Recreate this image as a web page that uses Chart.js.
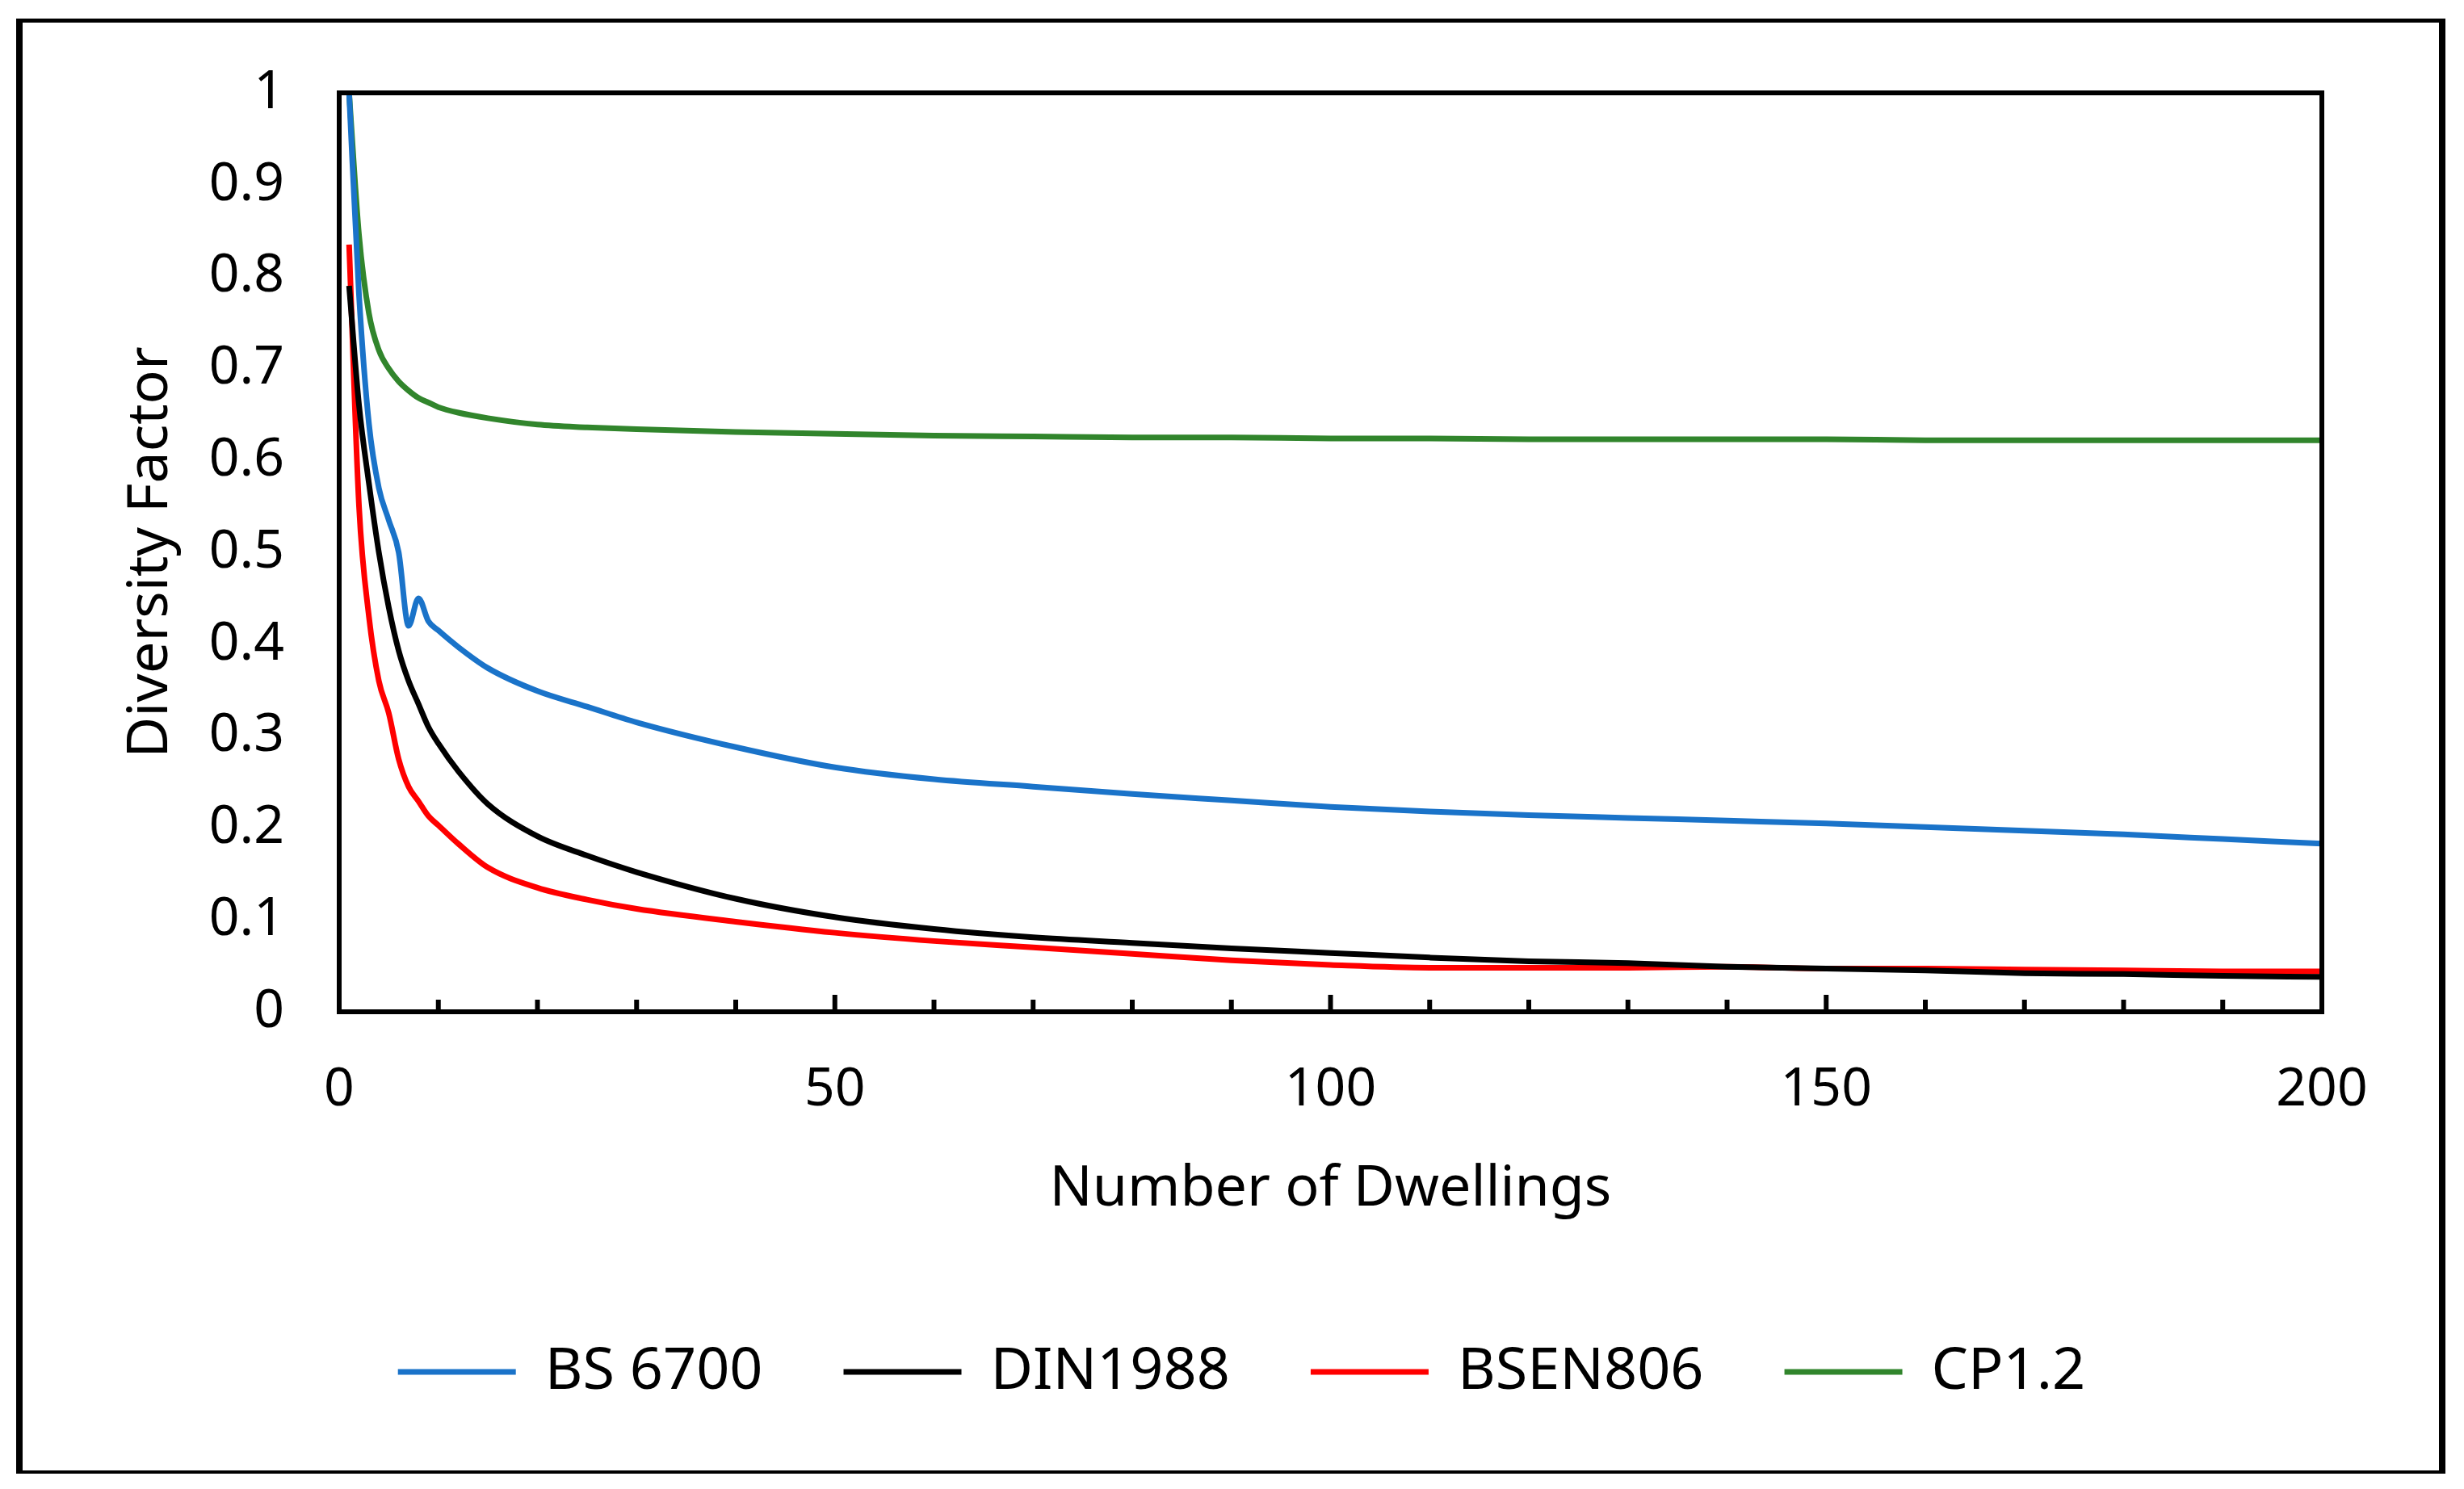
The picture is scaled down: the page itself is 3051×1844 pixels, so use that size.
<!DOCTYPE html>
<html>
<head>
<meta charset="utf-8">
<script src="https://cdn.jsdelivr.net/npm/chart.js@4.4.1/dist/chart.umd.min.js"></script>
<style>
  html, body { margin: 0; padding: 0; background: #fff; }
</style>
</head>
<body>
<canvas id="chart" width="3051" height="1844"></canvas>
<script>
// Number of dwellings (x) and diversity factor per standard (y)
const dwellings = [1, 2, 3, 4, 5, 6, 7, 8, 9, 10, 12, 15, 20, 25, 30, 40, 50, 60, 70, 80, 90, 100, 110, 120, 130, 140, 150, 160, 170, 180, 190, 200];
const bs6700  = [1.0, 0.78, 0.64, 0.57, 0.535, 0.50, 0.42, 0.45, 0.425, 0.415, 0.397, 0.374, 0.349, 0.332, 0.315, 0.288, 0.266, 0.253, 0.245, 0.237, 0.230, 0.223, 0.218, 0.214, 0.211, 0.208, 0.205, 0.201, 0.197, 0.193, 0.188, 0.183];
const din1988 = [0.79, 0.66, 0.575, 0.50, 0.44, 0.393, 0.36, 0.335, 0.31, 0.292, 0.262, 0.226, 0.191, 0.17, 0.152, 0.123, 0.103, 0.090, 0.081, 0.075, 0.069, 0.064, 0.059, 0.055, 0.053, 0.049, 0.047, 0.045, 0.042, 0.041, 0.039, 0.038];
const bsen806 = [0.835, 0.55, 0.43, 0.36, 0.325, 0.275, 0.245, 0.229, 0.213, 0.203, 0.183, 0.157, 0.135, 0.122, 0.112, 0.098, 0.086, 0.077, 0.070, 0.063, 0.056, 0.051, 0.048, 0.048, 0.048, 0.049, 0.047, 0.047, 0.046, 0.045, 0.044, 0.044];
const cp12    = [1.0, 0.845, 0.76, 0.72, 0.70, 0.686, 0.676, 0.668, 0.663, 0.658, 0.652, 0.646, 0.639, 0.636, 0.634, 0.631, 0.629, 0.627, 0.626, 0.625, 0.625, 0.624, 0.624, 0.623, 0.623, 0.623, 0.623, 0.622, 0.622, 0.622, 0.622, 0.622];

const xTicks = [0, 50, 100, 150, 200];
const yTicks = [0, 0.1, 0.2, 0.3, 0.4, 0.5, 0.6, 0.7, 0.8, 0.9, 1];

const FONT = "'Noto Sans', sans-serif";

function series(label, values, color) {
  return {
    label: label,
    data: dwellings.map((x, i) => ({ x: x, y: values[i] })),
    borderColor: color,
    backgroundColor: color,
    borderWidth: 7,
    pointRadius: 0,
    cubicInterpolationMode: 'monotone',
    clip: 8
  };
}

// frame, inner tick marks and outer border
const framePlugin = {
  id: 'frame',
  afterLayout(chart) {
    // legend sits a bit right of centre in the original
    chart.legend.left += 50;
    chart.legend.right += 50;
  },
  afterDraw(chart) {
    const { ctx, chartArea: a } = chart;
    const xs = chart.scales.x;
    ctx.save();
    ctx.strokeStyle = '#000';
    ctx.lineWidth = 6;
    for (let v = 10; v < 200; v += 10) {
      const px = xs.getPixelForValue(v);
      const len = v % 50 === 0 ? 21 : 15;
      ctx.beginPath();
      ctx.moveTo(px, a.bottom);
      ctx.lineTo(px, a.bottom - len);
      ctx.stroke();
    }
    ctx.strokeRect(a.left, a.top, a.right - a.left, a.bottom - a.top);
    ctx.fillStyle = '#000';
    ctx.fillRect(20, 23, 3008, 5);
    ctx.fillRect(20, 1821, 3008, 4);
    ctx.fillRect(20, 23, 8, 1802);
    ctx.fillRect(3020, 23, 8, 1802);
    ctx.restore();
  }
};

new Chart(document.getElementById('chart'), {
  type: 'line',
  data: {
    datasets: [
      series('BS 6700', bs6700, '#1a73c9'),
      series('DIN1988', din1988, '#000000'),
      series('BSEN806', bsen806, '#ff0000'),
      series('CP1.2', cp12, '#31852c')
    ]
  },
  options: {
    responsive: false,
    devicePixelRatio: 1,
    animation: false,
    layout: { padding: { left: 100, right: 176, top: 115, bottom: 99 } },
    scales: {
      x: {
        type: 'linear',
        min: 0,
        max: 200,
        afterBuildTicks: s => { s.ticks = xTicks.map(v => ({ value: v })); },
        afterFit: s => { s.height = 310; },
        grid: { display: false, drawTicks: false },
        border: { display: false },
        ticks: { padding: 58, color: '#000', font: { family: FONT, size: 66 } },
        title: {
          display: true,
          text: 'Number of Dwellings',
          color: '#000',
          font: { family: FONT, size: 70 },
          padding: { top: 0, bottom: 48 }
        }
      },
      y: {
        min: 0,
        max: 1,
        afterBuildTicks: s => { s.ticks = yTicks.map(v => ({ value: v })); },
        afterFit: s => { s.width = 320; },
        grid: { display: false, drawTicks: false },
        border: { display: false },
        ticks: {
          padding: 68,
          color: '#000',
          font: { family: FONT, size: 66 },
          callback: v => String(+v.toFixed(1))
        },
        title: {
          display: true,
          text: 'Diversity Factor',
          color: '#000',
          font: { family: FONT, size: 70 },
          padding: { top: 45, bottom: 0 }
        }
      }
    },
    plugins: {
      legend: {
        position: 'bottom',
        labels: {
          boxWidth: 146,
          boxHeight: 7,
          padding: 100,
          color: '#000',
          font: { family: FONT, size: 72 },
          generateLabels: chart =>
            Chart.defaults.plugins.legend.labels.generateLabels(chart).map(l => ({ ...l, lineWidth: 0 }))
        }
      },
      tooltip: { enabled: false }
    }
  },
  plugins: [framePlugin]
});
</script>
</body>
</html>
